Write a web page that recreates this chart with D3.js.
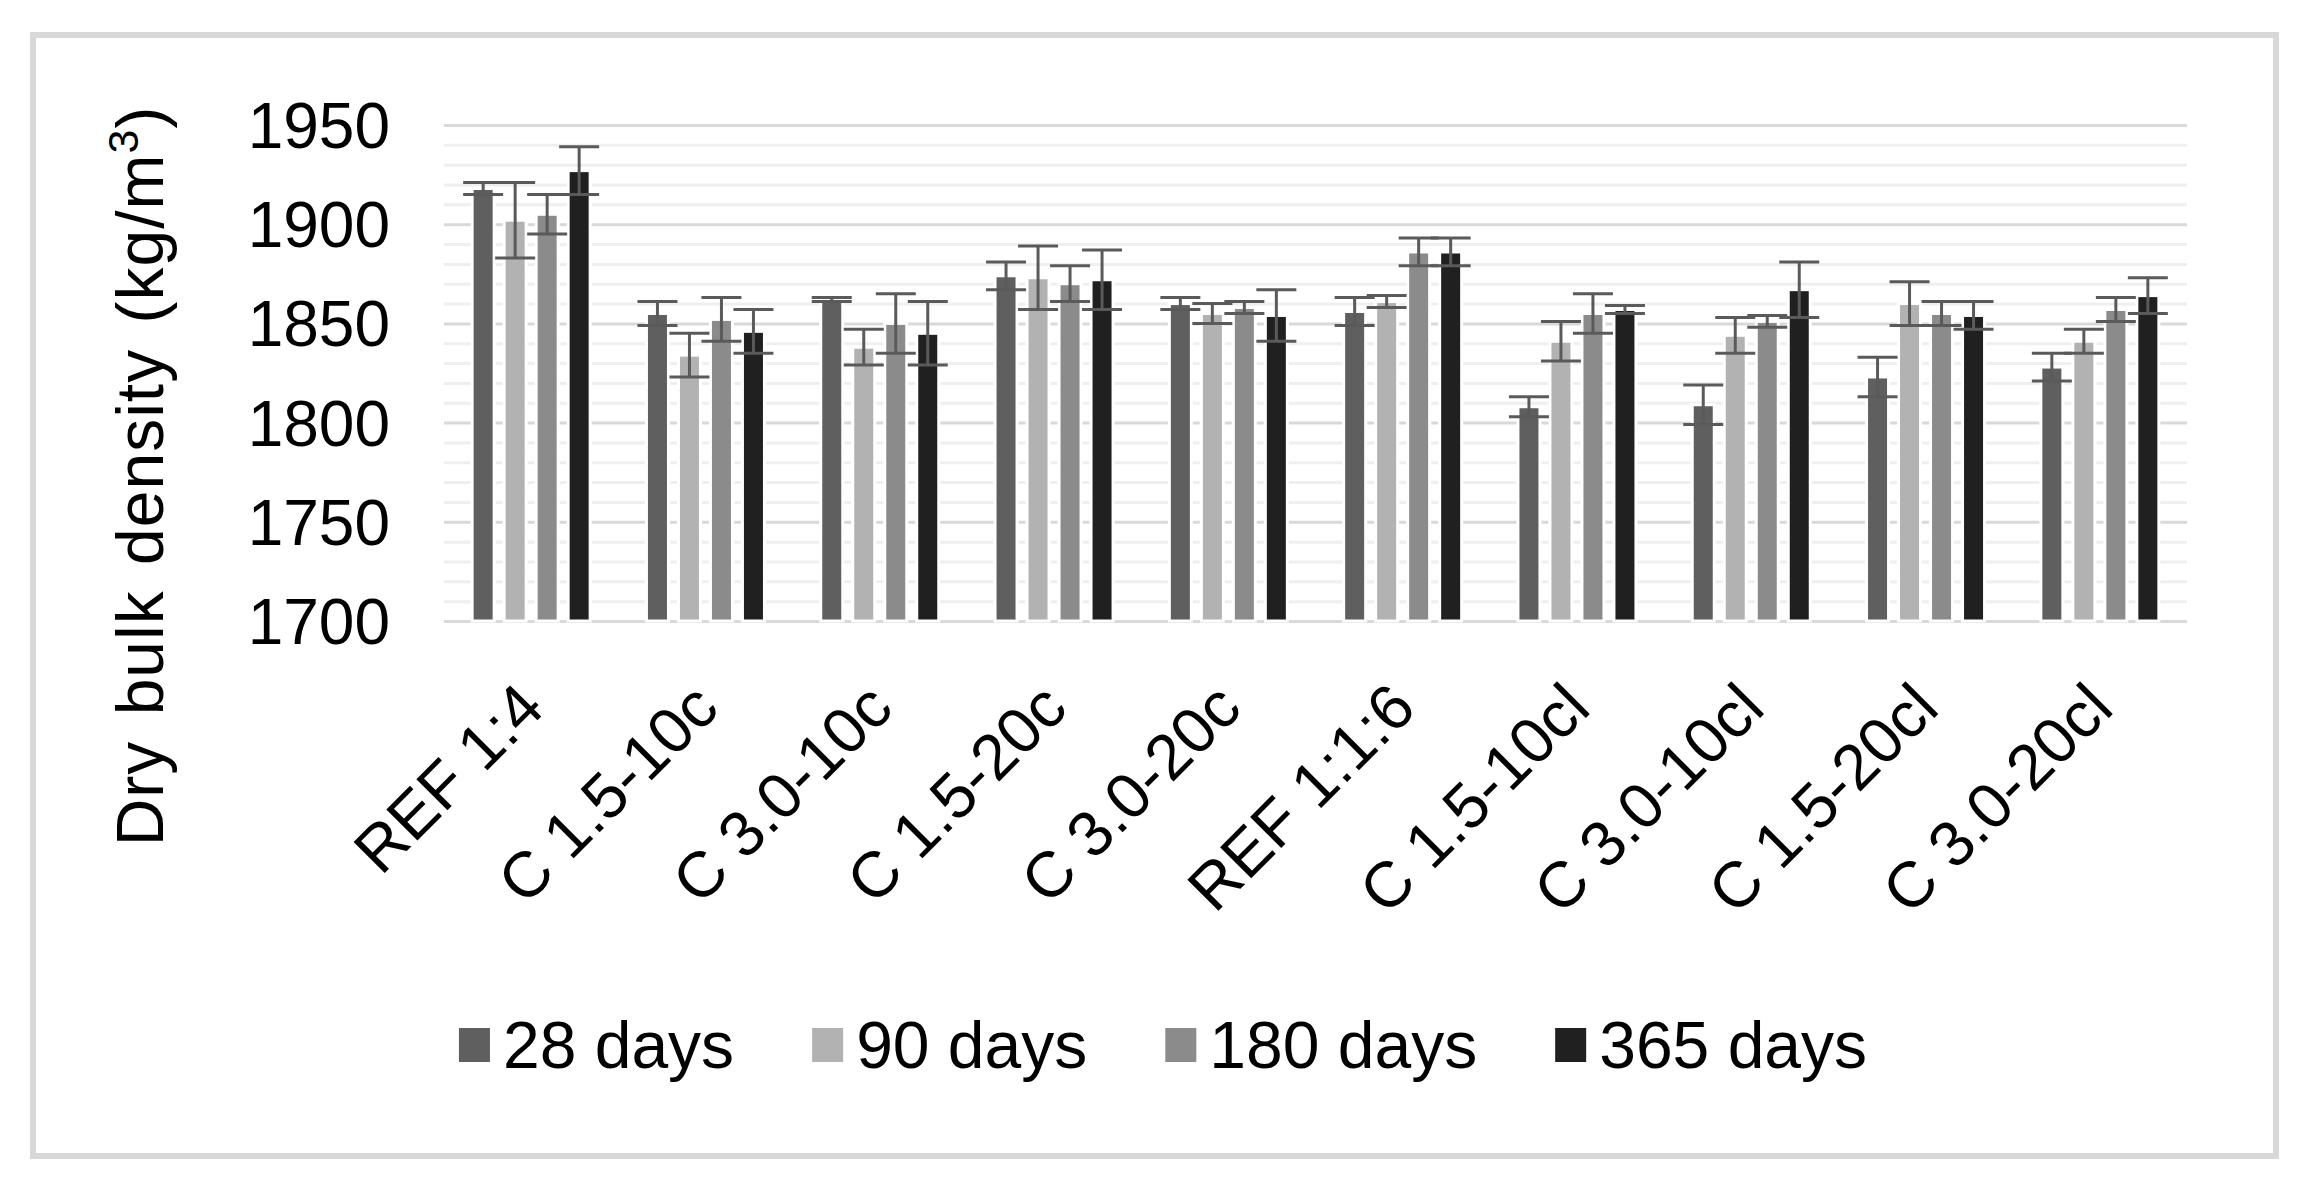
<!DOCTYPE html>
<html>
<head>
<meta charset="utf-8">
<script src="https://cdn.jsdelivr.net/npm/d3@7"></script>
<style>
  html, body { margin: 0; padding: 0; background: #ffffff; }
  svg { display: block; }
  text { font-family: "Liberation Sans", Arial, sans-serif; fill: #000; }
</style>
</head>
<body>
<svg id="chart" width="2305" height="1188"></svg>
<script>
// ---------------- data ----------------
const categories = ["REF 1:4", "C 1.5-10c", "C 3.0-10c", "C 1.5-20c", "C 3.0-20c",
                    "REF 1:1:6", "C 1.5-10cl", "C 3.0-10cl", "C 1.5-20cl", "C 3.0-20cl"];
const seriesNames = ["28 days", "90 days", "180 days", "365 days"];
const values28  = [1918, 1855, 1862, 1874, 1860, 1856, 1808, 1809, 1823, 1828];
const errors28  = [3, 6, 1, 7, 3, 7, 5, 10, 10, 7];
const values90  = [1902, 1834, 1838, 1873, 1855, 1861, 1841, 1844, 1860, 1841];
const errors90  = [19, 11, 9, 16, 5, 3, 10, 9, 11, 6];
const values180 = [1905, 1852, 1850, 1870, 1858, 1886, 1855, 1851, 1855, 1857];
const errors180 = [10, 11, 15, 9, 3, 7, 10, 3, 6, 6];
const values365 = [1927, 1846, 1845, 1872, 1854, 1886, 1857, 1867, 1854, 1864];
const errors365 = [12, 11, 16, 15, 13, 7, 2, 14, 7, 9];
const yTicks = [1700, 1750, 1800, 1850, 1900, 1950];
const yTitle = "Dry bulk density (kg/m";
const colors = ["#5f5f5f", "#b2b2b2", "#8b8b8b", "#202020"];

const seriesValues = [values28, values90, values180, values365];
const seriesErrors = [errors28, errors90, errors180, errors365];

// ---------------- layout ----------------
const svg = d3.select("#chart");
const W = 2305, H = 1188;
const plot = { left: 444, right: 2187, top: 125, bottom: 621 };
const FS = 64;

svg.append("rect").attr("x", 0).attr("y", 0).attr("width", W).attr("height", H).attr("fill", "#fff");
// outer frame
svg.append("rect").attr("x", 33).attr("y", 35).attr("width", 2243).attr("height", 1121)
   .attr("fill", "none").attr("stroke", "#d8d8d8").attr("stroke-width", 6);

const x0 = d3.scaleBand().domain(categories).range([plot.left, plot.right]).padding(0);
const x1 = d3.scaleBand().domain(seriesNames).range([-59, 59]).paddingInner(0.3125).paddingOuter(0);
const y = d3.scaleLinear().domain([1700, 1950]).range([plot.bottom, plot.top]);

// minor gridlines
const minorTicks = d3.range(1710, 1950, 10).filter(v => v % 50 !== 0);
svg.append("g").attr("transform", `translate(${plot.left},0)`)
  .call(d3.axisLeft(y).tickValues(minorTicks).tickSize(-(plot.right - plot.left)).tickFormat(""))
  .call(g => g.select(".domain").remove())
  .call(g => g.selectAll("line").attr("stroke", "#efefef").attr("stroke-width", 3));

// major gridlines
svg.append("g").attr("transform", `translate(${plot.left},0)`)
  .call(d3.axisLeft(y).tickValues(yTicks).tickSize(-(plot.right - plot.left)).tickFormat(""))
  .call(g => g.select(".domain").remove())
  .call(g => g.selectAll("line").attr("stroke", "#d9d9d9").attr("stroke-width", 3));

// y tick labels
svg.append("g").attr("transform", `translate(390,0)`)
  .call(d3.axisLeft(y).tickValues(yTicks).tickSize(0).tickPadding(0).tickFormat(d3.format("d")))
  .call(g => g.select(".domain").remove())
  .call(g => g.selectAll("text").attr("font-size", FS).attr("fill", "#000")
       .attr("font-family", "Liberation Sans, Arial, sans-serif").attr("dy", "0.35em"));

// bars
const groups = svg.append("g").selectAll("g").data(categories).join("g")
  .attr("transform", d => `translate(${x0(d) + x0.bandwidth() / 2},0)`);

seriesNames.forEach((s, si) => {
  groups.append("rect")
    .attr("x", x1(s))
    .attr("width", x1.bandwidth())
    .attr("y", (d, i) => y(seriesValues[si][i]))
    .attr("height", (d, i) => y(1700) - y(seriesValues[si][i]))
    .attr("fill", colors[si])
    .attr("stroke", "#ffffff").attr("stroke-width", 3);
});

// error bars
const capW = 40;
seriesNames.forEach((s, si) => {
  const cx = x1(s) + x1.bandwidth() / 2;
  const eg = groups.append("g").attr("stroke", "#5a5a5a").attr("stroke-width", 3);
  eg.append("line")
    .attr("x1", cx).attr("x2", cx)
    .attr("y1", (d, i) => y(seriesValues[si][i] + seriesErrors[si][i]))
    .attr("y2", (d, i) => y(seriesValues[si][i] - seriesErrors[si][i]));
  eg.append("line")
    .attr("x1", cx - capW / 2).attr("x2", cx + capW / 2)
    .attr("y1", (d, i) => y(seriesValues[si][i] + seriesErrors[si][i]))
    .attr("y2", (d, i) => y(seriesValues[si][i] + seriesErrors[si][i]));
  eg.append("line")
    .attr("x1", cx - capW / 2).attr("x2", cx + capW / 2)
    .attr("y1", (d, i) => y(seriesValues[si][i] - seriesErrors[si][i]))
    .attr("y2", (d, i) => y(seriesValues[si][i] - seriesErrors[si][i]));
});

// x axis labels (rotated)
svg.append("g").attr("transform", `translate(0,695)`)
  .call(d3.axisBottom(x0).tickSize(0).tickPadding(0))
  .call(g => g.select(".domain").remove())
  .call(g => g.selectAll(".tick text")
      .attr("font-size", FS).attr("fill", "#000")
      .attr("font-family", "Liberation Sans, Arial, sans-serif")
      .attr("text-anchor", "end")
      .attr("y", 0).attr("dy", "0.35em")
      .attr("transform", "rotate(-45)"));

// y title
const yt = svg.append("text")
  .attr("transform", "translate(163,476) rotate(-90)")
  .attr("text-anchor", "middle")
  .attr("font-size", 66)
  .attr("letter-spacing", 1)
  .attr("word-spacing", 6);
yt.append("tspan").text(yTitle);
yt.append("tspan").text("3").attr("font-size", 66 * 0.65).attr("dy", -66 * 0.38);
yt.append("tspan").text(")").attr("dy", 66 * 0.38);

// legend
const legend = svg.append("g").attr("transform", "translate(0,1068)");
const items = [];
seriesNames.forEach((s, si) => {
  const g = legend.append("g");
  g.append("rect").attr("x", 0).attr("y", -40).attr("width", 31).attr("height", 34).attr("fill", colors[si]);
  const t = g.append("text").attr("x", 44).attr("y", 0).attr("font-size", 66).text(s);
  const w = 44 + t.node().getComputedTextLength();
  items.push({ g, w });
});
const gap = 78;
const total = d3.sum(items, d => d.w) + gap * (items.length - 1);
let start = 1163 - total / 2;
items.forEach(it => { it.g.attr("transform", `translate(${start},0)`); start += it.w + gap; });
</script>
</body>
</html>
